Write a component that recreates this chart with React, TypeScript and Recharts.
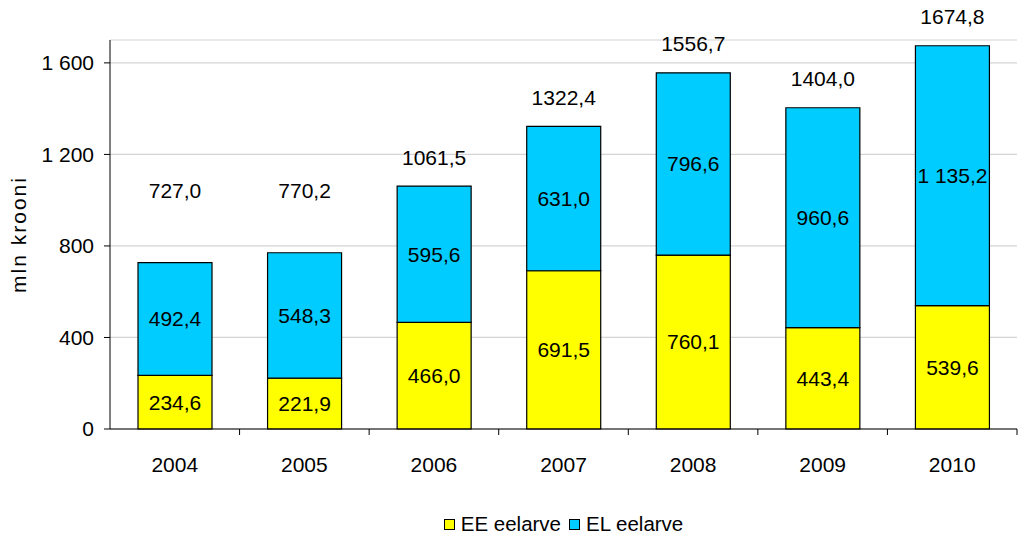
import React from 'react';
import { BarChart, Bar, XAxis, YAxis, CartesianGrid, Legend, LabelList } from 'recharts';

const years = ['2004', '2005', '2006', '2007', '2008', '2009', '2010'];
const eeBudget = [234.6, 221.9, 466.0, 691.5, 760.1, 443.4, 539.6];
const elBudget = [492.4, 548.3, 595.6, 631.0, 796.6, 960.6, 1135.2];
const totals = [727.0, 770.2, 1061.5, 1322.4, 1556.7, 1404.0, 1674.8];
const yTicks = [0, 400, 800, 1200, 1600];

const data = years.map((year, i) => ({
  year,
  ee: eeBudget[i],
  el: elBudget[i],
  total: totals[i],
}));

const W = 1019;
const H = 539;
const MARGIN = { top: 40, right: 2, left: 0, bottom: 0 };
const Y_AXIS_W = 110;
const BAND = (W - MARGIN.left - MARGIN.right - Y_AXIS_W) / years.length;
const FONT = '"Liberation Sans", Arial, sans-serif';

const YELLOW = '#ffff00';
const BLUE = '#00ccff';

// 1135.2 -> "1 135,2"
const fmtInner = (v: number) => {
  const [int, dec] = v.toFixed(1).split('.');
  return int.replace(/\B(?=(\d{3})+(?!\d))/g, ' ') + ',' + dec;
};
const fmtTotal = (v: number) => v.toFixed(1).replace('.', ',');
const fmtTick = (v: number) => String(v).replace(/\B(?=(\d{3})+(?!\d))/g, ' ');

const XTick = (props: any) => {
  const { x, y, payload } = props;
  return (
    <g>
      <line x1={x + BAND / 2} x2={x + BAND / 2} y1={y} y2={y + 6} stroke="#000" strokeWidth={1} />
      <text x={x} y={y + 35} textAnchor="middle" dominantBaseline="central" fontSize={21} fill="#000" fontFamily={FONT}>
        {payload.value}
      </text>
    </g>
  );
};

const TotalLabel = (props: any) => {
  const { x, y, width, index } = props;
  // Excel placed the two short ones higher up
  const ty = Math.min(y - 29, MARGIN.top + 150);
  return (
    <text x={x + width / 2} y={ty} textAnchor="middle" dominantBaseline="central" fontSize={21} fill="#000" fontFamily={FONT}>
      {fmtTotal(totals[index])}
    </text>
  );
};

const LegendBox = () => (
  <div style={{ display: 'flex', justifyContent: 'center', alignItems: 'center', fontFamily: FONT, fontSize: 20.5, color: '#000', height: 30, paddingLeft: 118 }}>
    {[{ c: YELLOW, t: 'EE eelarve' }, { c: BLUE, t: 'EL eelarve' }].map((it) => (
      <span key={it.t} style={{ display: 'flex', alignItems: 'center', marginRight: 8 }}>
        <span style={{ width: 9, height: 9, background: it.c, border: '1.5px solid #000', marginRight: 6, display: 'inline-block' }} />
        {it.t}
      </span>
    ))}
  </div>
);

export default function App() {
  return (
    <div style={{ position: 'absolute', left: 0, top: 0, width: W, height: H, background: '#fff' }}>
      <BarChart width={W} height={H} data={data} margin={MARGIN} barSize={74}>
        <CartesianGrid vertical={false} stroke="#d4d4d4" strokeWidth={1.2} />
        <XAxis
          dataKey="year"
          height={80}
          tickSize={0}
          tickMargin={0}
          tickLine={false}
          tick={<XTick />}
          axisLine={{ stroke: '#000' }}
        />
        <YAxis
          width={Y_AXIS_W}
          domain={[0, 1700]}
          ticks={yTicks}
          tickFormatter={fmtTick}
          tickSize={6}
          tickMargin={10}
          tick={{ fontSize: 21, fill: '#000', fontFamily: FONT }}
          tickLine={{ stroke: '#000' }}
          axisLine={{ stroke: '#000' }}
          label={{
            value: 'mln krooni',
            angle: -90,
            position: 'insideLeft',
            dx: 14,
            style: { fontSize: 21, letterSpacing: 2, fill: '#000', fontFamily: FONT, textAnchor: 'middle' },
          }}
        />
        <Legend verticalAlign="bottom" height={30} content={<LegendBox />} />
        <Bar dataKey="ee" stackId="a" fill={YELLOW} stroke="#000" strokeWidth={1.2} isAnimationActive={false}>
          <LabelList dataKey="ee" position="center" formatter={(v: any) => fmtInner(v)} style={{ fontSize: 21, fill: '#000', fontFamily: FONT }} />
        </Bar>
        <Bar dataKey="el" stackId="a" fill={BLUE} stroke="#000" strokeWidth={1.2} isAnimationActive={false}>
          <LabelList dataKey="el" position="center" formatter={(v: any) => fmtInner(v)} style={{ fontSize: 21, fill: '#000', fontFamily: FONT }} />
          <LabelList dataKey="total" content={<TotalLabel />} />
        </Bar>
      </BarChart>
    </div>
  );
}
